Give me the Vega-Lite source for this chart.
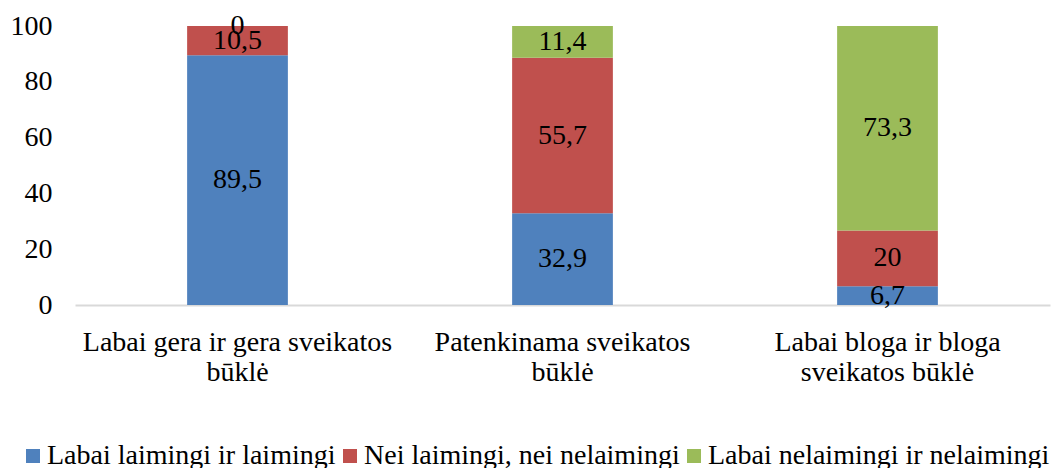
{
  "$schema": "https://vega.github.io/schema/vega-lite/v6.json",
  "width": 975,
  "height": 279,
  "autosize": {"type": "none"},
  "padding": {"left": 75, "top": 26, "right": 4, "bottom": 163},
  "background": "white",
  "config": {
    "view": {"stroke": null},
    "axis": {"labelFont": "Liberation Serif", "labelFontSize": 28, "labelColor": "black", "grid": false, "ticks": false, "title": null, "labelLimit": 0, "labelOverlap": false, "labelFlush": false},
    "legend": {"labelFont": "Liberation Serif", "labelFontSize": 28, "labelColor": "black", "labelLimit": 0}
  },
  "data": {
    "values": [
      {"cat": "Labai gera ir gera sveikatos būklė", "group": "Labai laimingi ir laimingi", "value": 89.5, "label": "89,5", "ord": 1},
      {"cat": "Labai gera ir gera sveikatos būklė", "group": "Nei laimingi, nei nelaimingi", "value": 10.5, "label": "10,5", "ord": 2},
      {"cat": "Labai gera ir gera sveikatos būklė", "group": "Labai nelaimingi ir nelaimingi", "value": 0, "label": "0", "ord": 3},
      {"cat": "Patenkinama sveikatos būklė", "group": "Labai laimingi ir laimingi", "value": 32.9, "label": "32,9", "ord": 1},
      {"cat": "Patenkinama sveikatos būklė", "group": "Nei laimingi, nei nelaimingi", "value": 55.7, "label": "55,7", "ord": 2},
      {"cat": "Patenkinama sveikatos būklė", "group": "Labai nelaimingi ir nelaimingi", "value": 11.4, "label": "11,4", "ord": 3},
      {"cat": "Labai bloga ir bloga sveikatos būklė", "group": "Labai laimingi ir laimingi", "value": 6.7, "label": "6,7", "ord": 1},
      {"cat": "Labai bloga ir bloga sveikatos būklė", "group": "Nei laimingi, nei nelaimingi", "value": 20, "label": "20", "ord": 2},
      {"cat": "Labai bloga ir bloga sveikatos būklė", "group": "Labai nelaimingi ir nelaimingi", "value": 73.3, "label": "73,3", "ord": 3}
    ]
  },
  "transform": [
    {"stack": "value", "groupby": ["cat"], "sort": [{"field": "ord"}], "as": ["y0", "y1"]},
    {"calculate": "(datum.y0 + datum.y1) / 2", "as": "mid"}
  ],
  "encoding": {
    "x": {
      "field": "cat",
      "type": "nominal",
      "sort": ["Labai gera ir gera sveikatos būklė", "Patenkinama sveikatos būklė", "Labai bloga ir bloga sveikatos būklė"],
      "scale": {"paddingInner": 0.69, "paddingOuter": 0.345},
      "axis": {
        "labelAngle": 0,
        "labelPadding": 23,
        "labelLineHeight": 30,
        "labelBaseline": "top",
        "domainColor": "#D9D9D9",
        "domainWidth": 2,
        "labelExpr": "datum.value == 'Labai gera ir gera sveikatos būklė' ? ['Labai gera ir gera sveikatos', 'būklė'] : datum.value == 'Patenkinama sveikatos būklė' ? ['Patenkinama sveikatos', 'būklė'] : ['Labai bloga ir bloga', 'sveikatos būklė']"
      }
    }
  },
  "layer": [
    {
      "mark": {"type": "bar"},
      "encoding": {
        "y": {"field": "y0", "type": "quantitative", "scale": {"domain": [0, 100]}, "axis": {"domain": false, "values": [0, 20, 40, 60, 80, 100], "labelPadding": 23}},
        "y2": {"field": "y1"},
        "color": {
          "field": "group",
          "type": "nominal",
          "scale": {
            "domain": ["Labai laimingi ir laimingi", "Nei laimingi, nei nelaimingi", "Labai nelaimingi ir nelaimingi"],
            "range": ["#4F81BD", "#C0504D", "#9BBB59"]
          },
          "legend": {
            "title": null,
            "orient": "none",
            "legendX": -56,
            "legendY": 416,
            "direction": "horizontal",
            "symbolType": "square",
            "symbolSize": 196,
            "symbolOpacity": 1,
            "symbolStrokeWidth": 0,
            "labelOffset": 0,
            "columnPadding": 0
          }
        }
      }
    },
    {
      "mark": {"type": "text", "font": "Liberation Serif", "fontSize": 28, "color": "black"},
      "encoding": {
        "y": {"field": "mid", "type": "quantitative"},
        "text": {"field": "label"}
      }
    }
  ]
}
